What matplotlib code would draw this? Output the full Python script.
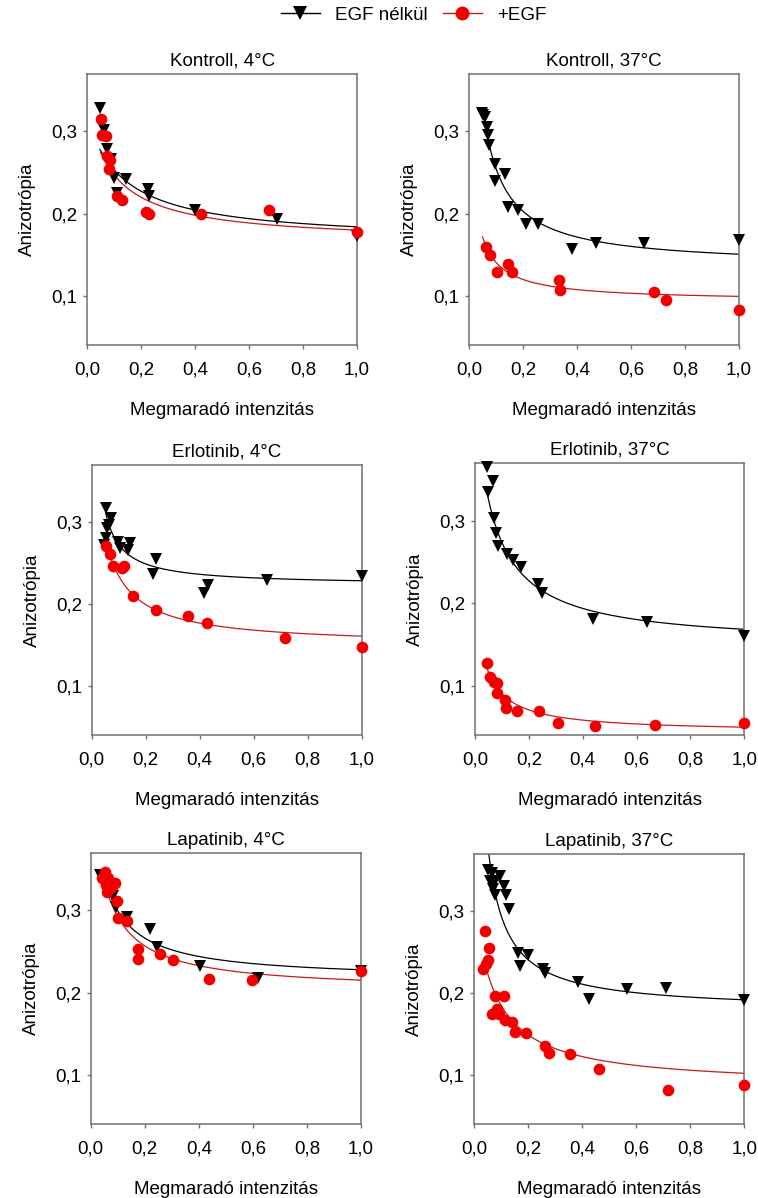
import matplotlib
matplotlib.use("Agg")
import matplotlib.pyplot as plt
import numpy as np
from matplotlib.lines import Line2D
from matplotlib.ticker import FuncFormatter

plt.rcParams["font.family"] = ["Liberation Sans", "DejaVu Sans"]

panel_titles = ["Kontroll, 4°C", "Kontroll, 37°C",
                "Erlotinib, 4°C", "Erlotinib, 37°C",
                "Lapatinib, 4°C", "Lapatinib, 37°C"]
x_label = "Megmaradó intenzitás"
y_label = "Anizotrópia"
legend_labels = ["EGF nélkül", "+EGF"]
x_ticks = [0.0, 0.2, 0.4, 0.6, 0.8, 1.0]
y_ticks = [0.1, 0.2, 0.3]

# Kontroll, 4°C
k4_black_x = [0.047, 0.063, 0.072, 0.088, 0.100, 0.109, 0.143, 0.224, 0.230, 0.399, 0.704, 1.0]
k4_black_y = [0.328, 0.302, 0.279, 0.267, 0.243, 0.225, 0.242, 0.230, 0.221, 0.204, 0.194, 0.173]
k4_red_x = [0.049, 0.053, 0.069, 0.072, 0.084, 0.082, 0.111, 0.127, 0.216, 0.230, 0.421, 0.674, 1.0]
k4_red_y = [0.315, 0.296, 0.294, 0.270, 0.265, 0.254, 0.221, 0.217, 0.202, 0.200, 0.199, 0.204, 0.177]

# Kontroll, 37°C
k37_black_x = [0.046, 0.052, 0.060, 0.065, 0.071, 0.073, 0.095, 0.132, 0.095, 0.145, 0.182,
               0.210, 0.254, 0.382, 0.469, 0.648, 1.0]
k37_black_y = [0.322, 0.320, 0.318, 0.306, 0.296, 0.283, 0.261, 0.248, 0.240, 0.208, 0.204,
               0.187, 0.187, 0.157, 0.164, 0.164, 0.168]
k37_red_x = [0.062, 0.077, 0.104, 0.145, 0.160, 0.334, 0.336, 0.685, 0.729, 1.0]
k37_red_y = [0.159, 0.149, 0.129, 0.139, 0.129, 0.119, 0.107, 0.105, 0.095, 0.083]

# Erlotinib, 4°C
e4_black_x = [0.052, 0.072, 0.064, 0.056, 0.052, 0.046, 0.099, 0.105, 0.142, 0.133, 0.237,
              0.228, 0.430, 0.417, 0.648, 1.0]
e4_black_y = [0.318, 0.305, 0.297, 0.293, 0.281, 0.272, 0.276, 0.268, 0.275, 0.266, 0.255,
              0.237, 0.223, 0.213, 0.230, 0.234]
e4_red_x = [0.052, 0.068, 0.080, 0.114, 0.121, 0.154, 0.237, 0.356, 0.426, 0.716, 1.0]
e4_red_y = [0.271, 0.261, 0.247, 0.244, 0.246, 0.210, 0.193, 0.185, 0.177, 0.159, 0.147]

# Erlotinib, 37°C
e37_black_x = [0.043, 0.068, 0.050, 0.071, 0.078, 0.087, 0.118, 0.140, 0.170, 0.235, 0.248,
               0.439, 0.637, 1.0]
e37_black_y = [0.366, 0.348, 0.335, 0.303, 0.285, 0.269, 0.260, 0.252, 0.244, 0.223, 0.213,
               0.181, 0.177, 0.160]
e37_red_x = [0.046, 0.056, 0.071, 0.083, 0.083, 0.111, 0.115, 0.155, 0.239, 0.309, 0.446, 0.668, 1.0]
e37_red_y = [0.128, 0.111, 0.104, 0.103, 0.091, 0.083, 0.073, 0.069, 0.069, 0.055, 0.051, 0.052, 0.054]

# Lapatinib, 4°C
l4_black_x = [0.035, 0.049, 0.084, 0.094, 0.133, 0.219, 0.244, 0.404, 0.620, 1.0]
l4_black_y = [0.343, 0.341, 0.318, 0.304, 0.292, 0.278, 0.255, 0.232, 0.218, 0.226]
l4_red_x = [0.053, 0.041, 0.065, 0.057, 0.078, 0.090, 0.059, 0.099, 0.102, 0.133, 0.176,
            0.176, 0.256, 0.306, 0.438, 0.596, 1.0]
l4_red_y = [0.347, 0.339, 0.339, 0.331, 0.329, 0.333, 0.322, 0.311, 0.291, 0.287, 0.253,
            0.241, 0.247, 0.240, 0.217, 0.215, 0.226]

# Lapatinib, 37°C
l37_black_x = [0.052, 0.068, 0.058, 0.077, 0.070, 0.077, 0.098, 0.110, 0.120, 0.130, 0.163,
               0.169, 0.200, 0.256, 0.262, 0.385, 0.426, 0.567, 0.710, 1.0]
l37_black_y = [0.351, 0.347, 0.337, 0.337, 0.327, 0.320, 0.343, 0.331, 0.320, 0.303, 0.249,
               0.233, 0.246, 0.229, 0.224, 0.214, 0.193, 0.205, 0.206, 0.192]
l37_red_x = [0.041, 0.033, 0.046, 0.056, 0.052, 0.077, 0.068, 0.085, 0.093, 0.110, 0.114,
             0.142, 0.151, 0.191, 0.262, 0.278, 0.357, 0.463, 0.719, 1.0]
l37_red_y = [0.276, 0.229, 0.235, 0.255, 0.241, 0.197, 0.174, 0.180, 0.174, 0.196, 0.167,
             0.165, 0.153, 0.151, 0.135, 0.127, 0.125, 0.107, 0.081, 0.088]

# hyperbolic decay fits: y = y0 + a*b/(b+x), drawn from x_start to 1
black_fit_y0 = [0.1656, 0.1356, 0.2231, 0.1485, 0.2156, 0.1786]
black_fit_a = [0.1505, 0.5133, 0.5458, 0.3050, 0.2405, 0.8878]
black_fit_b = [0.1385, 0.0300, 0.0100, 0.0697, 0.0536, 0.0151]
black_fit_start = [0.047, 0.052, 0.052, 0.043, 0.050, 0.052]
red_fit_y0 = [0.1649, 0.0934, 0.1491, 0.0432, 0.2019, 0.0858]
red_fit_a = [0.1621, 0.2182, 0.2799, 0.1665, 0.2529, 0.2304]
red_fit_b = [0.1025, 0.0274, 0.0438, 0.0392, 0.0556, 0.0756]
red_fit_start = [0.049, 0.049, 0.052, 0.046, 0.045, 0.040]

black_x = [k4_black_x, k37_black_x, e4_black_x, e37_black_x, l4_black_x, l37_black_x]
black_y = [k4_black_y, k37_black_y, e4_black_y, e37_black_y, l4_black_y, l37_black_y]
red_x = [k4_red_x, k37_red_x, e4_red_x, e37_red_x, l4_red_x, l37_red_x]
red_y = [k4_red_y, k37_red_y, e4_red_y, e37_red_y, l4_red_y, l37_red_y]

W, H = 758, 1198
# axes boxes in pixels: left, top, right, bottom
boxes = [(87.3, 74, 357, 345), (469.3, 74, 739, 345),
         (91.7, 465, 361.7, 735), (475, 463.3, 744.3, 735),
         (90.7, 853, 361, 1124), (474, 854, 744.3, 1124)]

RED = "#f20000"
RED_LINE = "#c41a1a"
SPINE = "#707070"


def hyperbola(x, y0, a, b):
    return y0 + a * b / (b + x)


def comma(v, pos):
    return f"{v:.1f}".replace(".", ",")


fig = plt.figure(figsize=(W / 100, H / 100), dpi=100)

for i, (l, t, r, b) in enumerate(boxes):
    ax = fig.add_axes([l / W, 1 - b / H, (r - l) / W, (b - t) / H])

    xs = np.linspace(black_fit_start[i], 1.0, 400)
    ax.plot(xs, hyperbola(xs, black_fit_y0[i], black_fit_a[i], black_fit_b[i]),
            color="black", lw=0.9, zorder=2)
    xs = np.linspace(red_fit_start[i], 1.0, 400)
    ax.plot(xs, hyperbola(xs, red_fit_y0[i], red_fit_a[i], red_fit_b[i]),
            color=RED_LINE, lw=0.9, zorder=2)

    ax.plot(black_x[i], black_y[i], "v", color="black", ms=8.2, mew=0, zorder=3, clip_on=False)
    ax.plot(red_x[i], red_y[i], "o", color=RED, ms=8.4, mew=0, zorder=4, clip_on=False)

    ax.set_xlim(0, 1.0)
    ax.set_ylim(0.04, 0.37)
    ax.set_xticks(x_ticks)
    ax.set_yticks(y_ticks)
    ax.xaxis.set_major_formatter(FuncFormatter(comma))
    ax.yaxis.set_major_formatter(FuncFormatter(comma))
    ax.tick_params(direction="out", length=3, width=1, color=SPINE,
                   labelsize=13.5, top=False, right=False)
    ax.tick_params(axis="x", pad=9)
    ax.tick_params(axis="y", pad=4)
    for sp in ax.spines.values():
        sp.set_color(SPINE)
        sp.set_linewidth(1.1)

    ax.set_title(panel_titles[i], fontsize=13.5, pad=6)
    ax.set_xlabel(x_label, fontsize=13.5, labelpad=17)
    ax.set_ylabel(y_label, fontsize=13.5, labelpad=11)

handles = [Line2D([], [], color="black", marker="v", ms=9.5, mew=0, lw=1),
           Line2D([], [], color=RED_LINE, marker="o", ms=10, mew=0, lw=1, markerfacecolor=RED)]
fig.legend(handles, legend_labels, loc="center", bbox_to_anchor=(413.5 / W, 1 - 15 / H),
           ncol=2, frameon=False, fontsize=13.5, handlelength=2.1, handletextpad=0.8,
           columnspacing=0.8)

fig.savefig("out.png", dpi=100)
